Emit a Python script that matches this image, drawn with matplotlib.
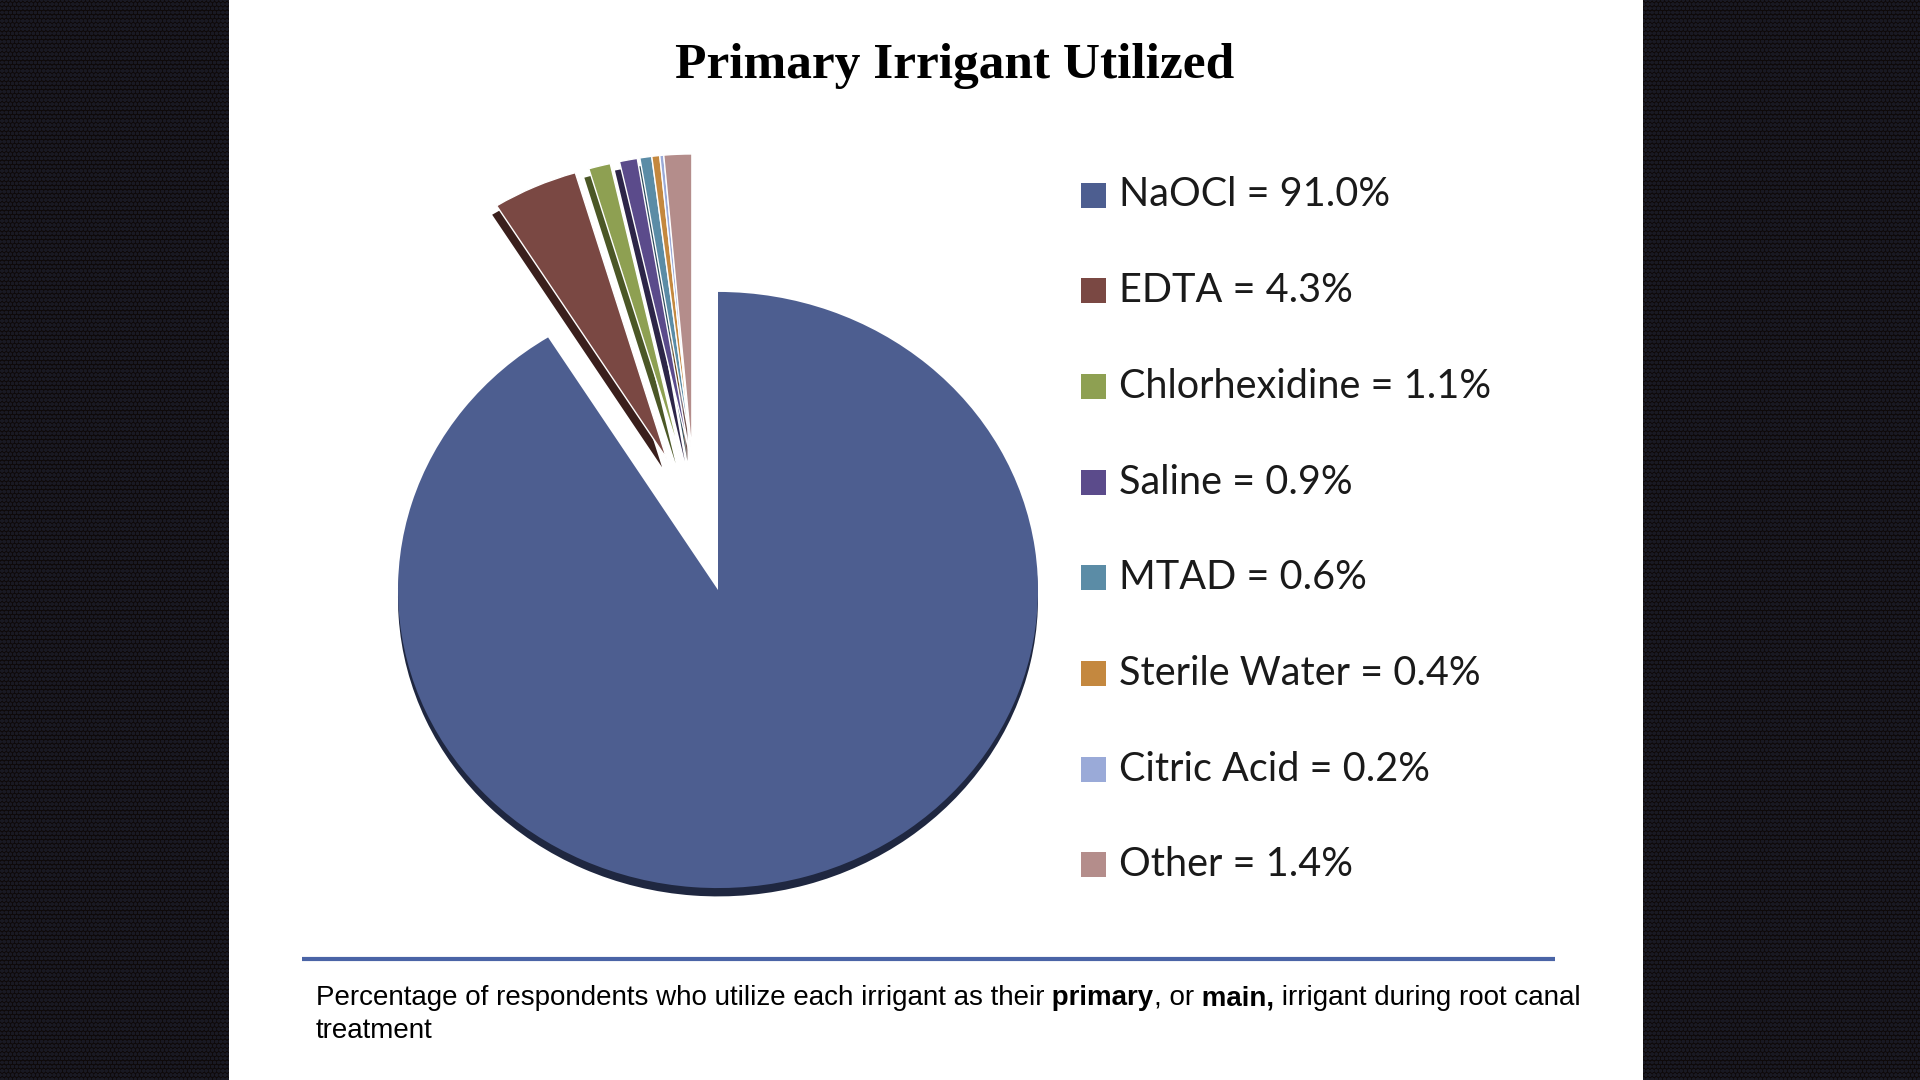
import numpy as np
import matplotlib.pyplot as plt
from matplotlib.patches import Rectangle

irrigants = ['NaOCl', 'EDTA', 'Chlorhexidine', 'Saline', 'MTAD',
             'Sterile Water', 'Citric Acid', 'Other']
percent = [91.0, 4.3, 1.1, 0.9, 0.6, 0.4, 0.2, 1.4]
colors = ['#4d5e90', '#7a4843', '#8ea052', '#5b4b8b', '#5b8ca6',
          '#c4883f', '#9aaad8', '#b48d8b']
side_colors = ['#1f2740', '#3a1f1c', '#4b5726', '#2d2548', '#2c4b5c',
               '#6e4a1e', '#56628a', '#6b4d4b']

title = 'Primary Irrigant Utilized'
caption = [('Percentage of respondents who utilize each irrigant as their', 'normal'),
           (' primary', 'bold'),
           (', or', 'normal'),
           (' main,', 'bold'),
           (' irrigant during root canal', 'normal')]
caption2 = 'treatment'


def pull_out(wedges, dx=0.0, dy=0.0):
    # small slices pulled away from the big one (direction kept close to the top)
    for w in wedges[1:]:
        mid = ((w.theta1 + w.theta2) / 2) % 360
        ang = np.deg2rad(np.clip(mid, 100, 110))
        w.set_center((0.47 * np.cos(ang) + dx, 0.47 * np.sin(ang) + dy))


fig = plt.figure(figsize=(19.2, 10.8), dpi=100)
fig.patch.set_facecolor('#0e0909')

# background (dark textured sides + white slide)
plt.rcParams['hatch.linewidth'] = 1.2
bg = fig.add_axes([0, 0, 1, 1])
bg.set_xlim(0, 1920)
bg.set_ylim(1080, 0)
bg.axis('off')
bg.add_patch(Rectangle((0, 0), 1920, 1080, facecolor='#0e0909',
                       edgecolor='#191923', hatch='oooo', lw=0))
bg.add_patch(Rectangle((229, 0), 1414, 1080, facecolor='white', edgecolor='none'))

bg.text(955, 66, title, ha='center', va='center', fontsize=37,
        fontweight='bold', family='Liberation Serif')

# pie
ax = fig.add_axes([318 / 1920, 90 / 1080, 800 / 1920, 800 / 1080])
shadow, _ = ax.pie(percent, colors=side_colors, startangle=90, counterclock=False,
                   center=(0, -0.028), wedgeprops=dict(linewidth=0))
pull_out(shadow, dx=-0.014, dy=-0.03)
wedges, _ = ax.pie(percent, colors=colors, startangle=90, counterclock=False,
                   wedgeprops=dict(edgecolor='white', linewidth=1.0))
wedges[0].set_linewidth(0)
pull_out(wedges)
ax.set_aspect('auto')
ax.set_xlim(-1.25, 1.25)
ax.set_ylim(-1.342, 1.342)

# legend
for i, (name, p, c) in enumerate(zip(irrigants, percent, colors)):
    y = 195 + i * 95.7
    bg.add_patch(Rectangle((1081, y - 12.5), 25, 25, facecolor=c, edgecolor='none'))
    bg.text(1119, y, f'{name} = {p:.1f}%', va='center', fontsize=28.5,
            family='Lato', color='#1a1a1a')

# separator + caption
bg.plot([302, 1555], [959, 959], color='#4a64a6', lw=3, solid_capstyle='butt')
t = bg.text(316, 1005, caption[0][0], va='baseline', fontsize=20,
            family='Liberation Sans', color='black')
for s, w in caption[1:]:
    t = bg.annotate(s, xy=(1, 0), xycoords=t, va='bottom', fontsize=20,
                    family='Liberation Sans', fontweight=w, color='black')
bg.text(316, 1038, caption2, va='baseline', fontsize=20,
        family='Liberation Sans', color='black')

fig.savefig('out.png', dpi=100, facecolor=fig.get_facecolor())
